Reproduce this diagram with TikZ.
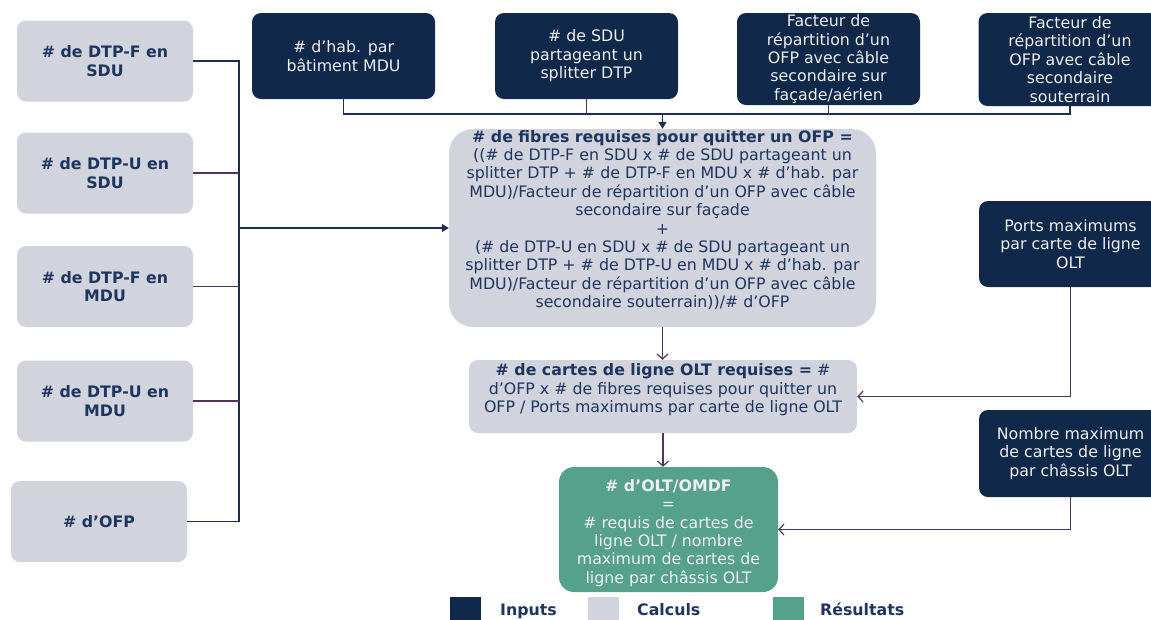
\documentclass[tikz,border=0pt]{standalone}
\usepackage{fontspec}
\setmainfont{DejaVu Sans}
\usetikzlibrary{arrows.meta}
\definecolor{navy}{HTML}{10284A}
\definecolor{calgray}{HTML}{D1D3DD}
\definecolor{resgreen}{HTML}{55A18B}
\definecolor{txtnavy}{HTML}{1E3560}
\definecolor{linenavy}{HTML}{1D2E50}
\definecolor{linepurple}{HTML}{4E3560}
\definecolor{whitetxt}{HTML}{EEEFF3}
\newcommand{\fs}{\fontsize{15.8}{18.4}\selectfont}
\begin{document}
\begin{tikzpicture}[x=1pt,y=-1pt,
  inbox/.style={rectangle, rounded corners=9pt, fill=navy, text=whitetxt, align=center, font=\fs, minimum width=183pt, inner sep=0pt},
  calcbox/.style={rectangle, rounded corners=9pt, fill=calgray, text=txtnavy, align=center, font=\fs, inner sep=0pt},
  leftbox/.style={calcbox, font=\fs\bfseries, minimum width=176pt, minimum height=81pt},
  resbox/.style={rectangle, rounded corners=15pt, fill=resgreen, text=whitetxt, align=center, font=\fs, inner sep=0pt},
  txt/.style={align=center, font=\fs, inner sep=0pt},
  link/.style={draw=linenavy, line width=1.3pt},
  linkp/.style={draw=linepurple, line width=1.3pt},
  farrow/.style={link, -{Triangle[length=7pt,width=8pt]}},
  oarrow/.style={draw=linepurple, line width=1.2pt, -{Straight Barb[length=5pt,width=11pt]}},
  legsq/.style={rectangle, minimum width=31pt, minimum height=30pt, inner sep=0pt},
  legtxt/.style={anchor=base west, font=\fs\bfseries, text=txtnavy, inner sep=0pt}
]
\useasboundingbox (0,0) rectangle (1151,619);
\clip (0,0) rectangle (1151,619);

% left inputs (grey)
\node[leftbox] (g1) at (105,61) {\# de DTP-F en\\SDU};
\node[leftbox] (g2) at (105,173) {\# de DTP-U en\\SDU};
\node[leftbox] (g3) at (105,286.5) {\# de DTP-F en\\MDU};
\node[leftbox] (g4) at (105,401) {\# de DTP-U en\\MDU};
\node[leftbox] (g5) at (99,521.5) {\# d’OFP};

% top inputs (navy)
\node[inbox, minimum height=86pt] (A) at (343.5,56) {\# d’hab. par\\bâtiment MDU};
\node[inbox, minimum height=86pt] (B) at (586.5,56) {\# de SDU\\partageant un\\splitter DTP};
\node[inbox, minimum height=92pt] (C) at (828.5,59) {Facteur de\\répartition d’un\\OFP avec câble\\secondaire sur\\façade/aérien};
\node[inbox, minimum height=93pt] (D) at (1070,59.5) {Facteur de\\répartition d’un\\OFP avec câble\\secondaire\\souterrain};

% right inputs
\node[inbox, minimum height=86pt] (P) at (1070.5,244) {Ports maximums\\par carte de ligne\\OLT};
\node[inbox, minimum height=87pt] (N) at (1070.5,453.5) {Nombre maximum\\de cartes de ligne\\par châssis OLT};

% main calc
\node[calcbox, rounded corners=24pt, minimum width=427pt, minimum height=198pt] (M) at (662.5,228) {};
\node[txt, text=txtnavy] (Mt) at (662.5,220) {\textbf{\# de fibres requises pour quitter un OFP =}\\
((\# de DTP-F en SDU x \# de SDU partageant un\\
splitter DTP + \# de DTP-F en MDU x \# d’hab. par\\
MDU)/Facteur de répartition d’un OFP avec câble\\
secondaire sur façade\\
+\\
(\# de DTP-U en SDU x \# de SDU partageant un\\
splitter DTP + \# de DTP-U en MDU x \# d’hab. par\\
MDU)/Facteur de répartition d’un OFP avec câble\\
secondaire souterrain))/\# d’OFP};

% second calc
\node[calcbox, minimum width=388pt, minimum height=73pt] (K) at (663,396.5) {};
\node[txt, text=txtnavy] (Kt) at (663,390) {\textbf{\# de cartes de ligne OLT requises =} \#\\
d’OFP x \# de fibres requises pour quitter un\\
OFP / Ports maximums par carte de ligne OLT};

% result
\node[resbox, minimum width=219pt, minimum height=125pt] (R) at (668.5,529.5) {};
\node[txt, text=whitetxt] (Rt) at (668.5,533) {\textbf{\# d’OLT/OMDF}\\=\\\# requis de cartes de\\ligne OLT / nombre\\maximum de cartes de\\ligne par châssis OLT};

% left bus
\draw[link] (g1.east) -- (239,61) coordinate (b1) -- (b1 |- g5.east) -- (g5.east);
\draw[linkp] (g2.east) -- (b1 |- g2.east);
\draw[linkp] (g3.east) -- (b1 |- g3.east);
\draw[linkp] (g4.east) -- (b1 |- g4.east);
\draw[farrow] (b1 |- M.west) -- (M.west);

% top bus
\coordinate (tl) at (0,114);
\draw[link] (A.south) -- (A.south |- tl) -- (D.south |- tl) -- (D.south);
\draw[linkp] (B.south) -- (B.south |- tl);
\draw[linkp] (C.south) -- (C.south |- tl);
\draw[farrow] (M.north |- tl) -- (M.north);

% vertical flow
\draw[oarrow] (M.south) -- (M.south |- K.north);
\draw[oarrow] (K.south) -- (K.south |- R.north);
\draw[oarrow] (P.south) |- (K.east);
\draw[oarrow] (N.south) |- (R.east);

% legend
\node[legsq, fill=navy] (L1) at (465,612) {};
\node[legtxt] (L1t) at (500,615) {Inputs};
\node[legsq, fill=calgray] (L2) at (603,612) {};
\node[legtxt] (L2t) at (637,615) {Calculs};
\node[legsq, fill=resgreen] (L3) at (788,612) {};
\node[legtxt] (L3t) at (820,615) {Résultats};
\end{tikzpicture}
\end{document}
